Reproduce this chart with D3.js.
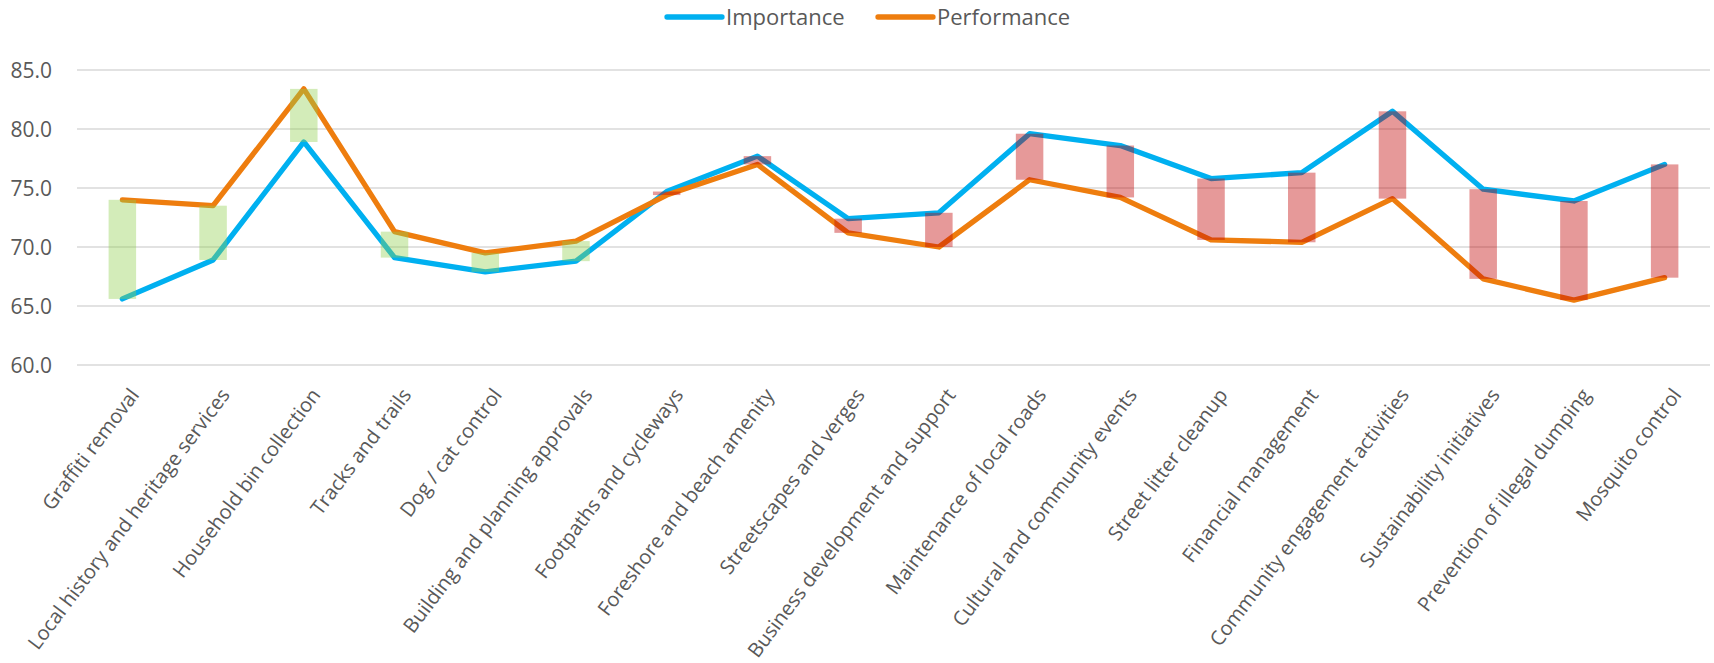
<!DOCTYPE html>
<html><head><meta charset="utf-8">
<script src="https://cdn.jsdelivr.net/npm/d3@7"></script>
<style>body{margin:0;background:#fff;} svg{display:block;}</style>
</head><body>
<svg id="chart" width="1714" height="663"></svg>
<script>
const categories = ["Graffiti removal","Local history and heritage services","Household bin collection","Tracks and trails","Dog / cat control","Building and planning approvals","Footpaths and cycleways","Foreshore and beach amenity","Streetscapes and verges","Business development and support","Maintenance of local roads","Cultural and community events","Street litter cleanup","Financial management","Community engagement activities","Sustainability initiatives","Prevention of illegal dumping","Mosquito control"];
const importance = [65.6,68.9,78.9,69.1,67.9,68.8,74.7,77.7,72.4,72.9,79.6,78.6,75.8,76.3,81.5,74.9,73.9,77.0];
const performance = [74.0,73.5,83.4,71.3,69.5,70.5,74.4,77.0,71.2,70.0,75.7,74.2,70.6,70.4,74.1,67.3,65.5,67.4];
const yTicks = [60,65,70,75,80,85];
const seriesNames = ["Importance","Performance"];

(function(){
const svg = d3.select("#chart");
const mLeft = 77, mRight = 1710, mTop = 70, mBottom = 365;
const x = d3.scaleBand().domain(categories).range([mLeft, mRight]).paddingInner(0).paddingOuter(0);
const y = d3.scaleLinear().domain([60,85]).range([mBottom, mTop]);
const cx = d => x(d) + x.bandwidth()/2;
const font = "'Open Sans', 'Noto Sans', sans-serif";
const colors = {Importance:"#00B0F0", Performance:"#EE7D0E"};

svg.append("g").selectAll("line").data(yTicks).join("line")
  .attr("x1", mLeft).attr("x2", mRight)
  .attr("y1", d=>y(d)).attr("y2", d=>y(d))
  .attr("stroke", "#D9D9D9").attr("stroke-width", 1.6);

svg.append("g").selectAll("text").data(yTicks).join("text")
  .attr("x", 52).attr("y", d=>y(d)).attr("dy","0.36em")
  .attr("text-anchor","end").attr("font-family",font).attr("font-size",21)
  .attr("fill","#595959").text(d=>d3.format(".1f")(d));

const line = d3.line().x(d=>cx(d.c)).y(d=>y(d.v));
[["Importance",importance],["Performance",performance]].forEach(([name,vals])=>{
  svg.append("path").datum(categories.map((c,i)=>({c, v: vals[i]})))
    .attr("d", line).attr("fill","none").attr("stroke", colors[name])
    .attr("stroke-width", 5.3).attr("stroke-linejoin","round").attr("stroke-linecap","round");
});

const bw = 27.5;
svg.append("g").selectAll("rect").data(categories).join("rect")
  .attr("x", d=>cx(d)-bw/2).attr("width", bw)
  .attr("y", (d,i)=>y(Math.max(importance[i],performance[i])))
  .attr("height", (d,i)=>Math.abs(y(importance[i])-y(performance[i])))
  .attr("fill", (d,i)=> performance[i] >= importance[i] ? "rgba(146,208,80,0.4)" : "rgba(192,0,0,0.4)");

svg.append("g").selectAll("text").data(categories).join("text")
  .attr("transform", d=>`translate(${cx(d)+12},391) rotate(-53)`)
  .attr("dy","0.35em").attr("text-anchor","end")
  .attr("font-family",font).attr("font-size",20).attr("fill","#595959").text(d=>d);

const legend = [{name:"Importance", x1:667, x2:722, tx:726},{name:"Performance", x1:878, x2:933, tx:937}];
const lg = svg.append("g");
legend.forEach(l=>{
  lg.append("line").attr("x1",l.x1).attr("x2",l.x2).attr("y1",17).attr("y2",17)
    .attr("stroke",colors[l.name]).attr("stroke-width",5.3).attr("stroke-linecap","round");
  lg.append("text").attr("x",l.tx).attr("y",17).attr("dy","0.36em")
    .attr("font-family",font).attr("font-size",22).attr("fill","#595959").text(l.name);
});
})();
</script>
</body></html>
